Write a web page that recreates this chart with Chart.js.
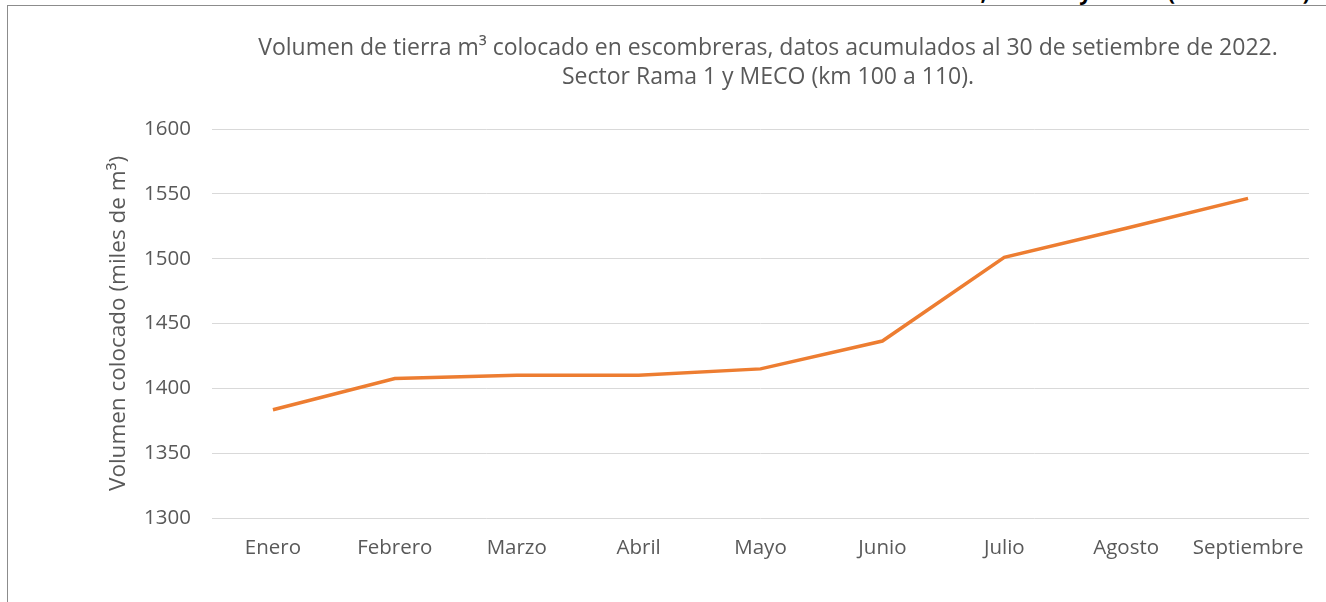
<!DOCTYPE html>
<html>
<head>
<meta charset="utf-8">
<script src="https://cdn.jsdelivr.net/npm/chart.js@4.4.0/dist/chart.umd.min.js"></script>
<style>
  html, body { margin: 0; padding: 0; background: #fff; }
  body { width: 1326px; height: 602px; position: relative; overflow: hidden; font-family: "Open Sans", sans-serif; }
  /* heading of the page, cut off by the top edge */
  #cut { position: absolute; left: 0; top: 0; width: 1326px; height: 5px; overflow: hidden; }
  #cut span { position: absolute; right: 16px; top: -22px; font-weight: bold; font-size: 22px; line-height: 26px; white-space: nowrap; color: #000; }
  #frame { position: absolute; left: 7px; top: 5px; width: 1319px; height: 597px; border-left: 1px solid #8c8c8c; border-top: 1px solid #8c8c8c; }
  #wrap { position: absolute; left: 1px; top: 1px; width: 1318px; height: 596px; }
</style>
</head>
<body>
<div id="cut"><span>Gráfico 5. Volumen acumulado colocado en escombreras de los sectores Rama 1, Rama 2 y MECO (miles de m³)</span></div>
<div id="frame"><div id="wrap"><canvas id="line-chart" width="1318" height="596"></canvas></div></div>
<script>
// data
var meses = ["Enero", "Febrero", "Marzo", "Abril", "Mayo", "Junio", "Julio", "Agosto", "Septiembre"];
var volumen = [1383.5, 1407.5, 1410, 1410, 1415, 1436.5, 1501, 1523.5, 1546.5];
var titulo = [
  "Volumen de tierra m³ colocado en escombreras, datos acumulados al 30 de setiembre de 2022.",
  "Sector Rama 1 y MECO (km 100 a 110)."
];
var ejeY = "Volumen colocado (miles de m³)";
var yMin = 1300, yMax = 1600, yPaso = 50;

var gris = "#595959";
var fuente = "Open Sans";

// two centered title lines over the plot (chart title can't be shifted right)
var tituloPlugin = {
  id: "tituloDos",
  afterDraw: function(chart) {
    var ctx = chart.ctx;
    ctx.save();
    ctx.fillStyle = gris;
    ctx.font = "23px '" + fuente + "'";
    ctx.textAlign = "center";
    ctx.textBaseline = "middle";
    ctx.fillText(titulo[0], 759, 41);
    ctx.fillText(titulo[1], 759, 70);
    ctx.restore();
  }
};

new Chart(document.getElementById("line-chart"), {
  type: "line",
  data: {
    labels: meses,
    datasets: [{
      data: volumen,
      borderColor: "#ED7D31",
      borderWidth: 3.5,
      pointRadius: 0,
      tension: 0,
      fill: false
    }]
  },
  options: {
    responsive: false,
    animation: false,
    layout: { padding: { top: 122, right: 18, bottom: 0, left: 0 } },
    plugins: {
      legend: { display: false },
      title: { display: false },
      tooltip: { enabled: false }
    },
    scales: {
      x: {
        offset: true,
        grid: { display: false, drawTicks: false },
        border: { display: false },
        ticks: { color: gris, font: { family: fuente, size: 20.5 }, padding: 18, maxRotation: 0, autoSkip: false },
        afterFit: function(s) { s.height = 85; }
      },
      y: {
        min: yMin,
        max: yMax,
        grid: { color: "#D9D9D9", lineWidth: 1, drawTicks: false },
        border: { display: false },
        ticks: {
          stepSize: yPaso,
          color: gris,
          font: { family: fuente, size: 20.5 },
          padding: 21,
          callback: function(v) { return String(v); }
        },
        title: { display: true, text: ejeY, color: gris, font: { family: fuente, size: 22.5 }, padding: { top: 96, bottom: 0 } },
        afterFit: function(s) { s.width = 203; }
      }
    }
  },
  plugins: [tituloPlugin]
});
</script>
</body>
</html>
